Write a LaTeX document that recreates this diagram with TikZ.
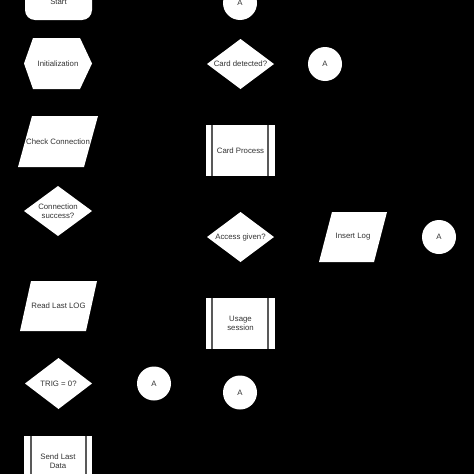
\documentclass[tikz,border=0pt]{standalone}
\usepackage{fontspec}
\setmainfont{Liberation Sans}
\begin{document}
\begin{tikzpicture}[x=1pt,y=-1pt,
  txt/.style={text=black!80,font=\fontsize{7.8}{9.4}\selectfont,align=center,inner sep=0pt},
  shapefill/.style={fill=white,draw=none},
  sideline/.style={draw=black!65,line width=1.2pt},
  conn/.style={shapefill,circle,minimum size=34pt,inner sep=0pt,text=black!80,font=\fontsize{7.8}{9.4}\selectfont}]
\useasboundingbox (0,0) rectangle (474,474);
\fill[black] (0,0) rectangle (474,474);

% left column
\fill[shapefill,rounded corners=10pt] (25,-18) rectangle (92,20);
\node[txt] (start) at (58.5,2) {Start};

\fill[shapefill] (24,63.5) -- (33,38) -- (80,38) -- (92,63.5) -- (80,89) -- (33,89) -- cycle;
\node[txt] (init) at (58,63.5) {Initialization};

\fill[shapefill] (32,116) -- (98,116) -- (84,167) -- (18,167) -- cycle;
\node[txt] (check) at (58,141.5) {Check Connection};

\fill[shapefill] (24,211) -- (58,186) -- (92,211) -- (58,236) -- cycle;
\node[txt] (succ) at (58,211) {Connection\\success?};

\fill[shapefill] (31,281) -- (97,281) -- (86,331) -- (20,331) -- cycle;
\node[txt] (read) at (58.5,306) {Read Last LOG};

\fill[shapefill] (25,383.5) -- (58.5,358) -- (92,383.5) -- (58.5,409) -- cycle;
\node[txt] (trig) at (58.5,383.5) {TRIG = 0?};

\node[conn] (a1) at (154,383.5) {A};

\fill[shapefill] (24,436) rectangle (92,487);
\draw[sideline] (31,436) -- (31,487) (86,436) -- (86,487);
\node[txt] (send) at (58,461) {Send Last\\Data};

% middle column
\node[conn] (a2) at (240,3) {A};

\fill[shapefill] (207,64) -- (240.5,39) -- (274,64) -- (240.5,89) -- cycle;
\node[txt] (card) at (240.5,64) {Card detected?};

\node[conn] (a3) at (325,64) {A};

\fill[shapefill] (206,125) rectangle (275,176);
\draw[sideline] (212,125) -- (212,176) (268,125) -- (268,176);
\node[txt] (proc) at (240.5,150.5) {Card Process};

\fill[shapefill] (207,237) -- (240.5,212) -- (274,237) -- (240.5,262) -- cycle;
\node[txt] (access) at (240.5,237) {Access given?};

\fill[shapefill] (332,212) -- (387,212) -- (374,262) -- (319,262) -- cycle;
\node[txt] (insert) at (353,237) {Insert Log};

\node[conn] (a4) at (439,237) {A};

\fill[shapefill] (206,298) rectangle (275,349);
\draw[sideline] (212,298) -- (212,349) (268,298) -- (268,349);
\node[txt] (usage) at (240.5,323.5) {Usage\\session};

\node[conn] (a5) at (240,392.5) {A};
\end{tikzpicture}
\end{document}
